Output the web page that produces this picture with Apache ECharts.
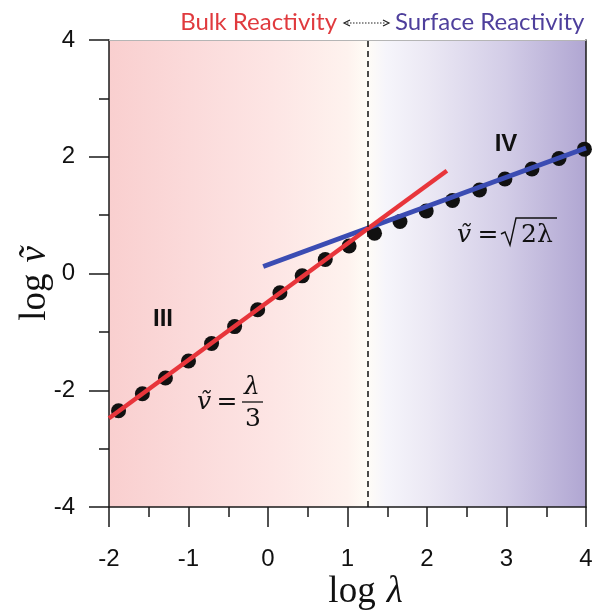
<!DOCTYPE html>
<html><head><meta charset="utf-8">
<script src="https://cdn.jsdelivr.net/npm/echarts@6/dist/echarts.min.js"></script>
<style>html,body{margin:0;padding:0;background:#fff}#c{width:592px;height:610px}</style>
</head><body><div id="c"></div>
<script>
// ---- data ----
const logLambda = [-1.88, -1.58, -1.29, -1.00, -0.71, -0.42, -0.13, 0.15, 0.43, 0.72, 1.02, 1.34, 1.66, 1.99, 2.32, 2.66, 2.98, 3.32, 3.66, 3.98];
const logV      = [-2.35, -2.06, -1.79, -1.50, -1.20, -0.91, -0.62, -0.33, -0.04, 0.24, 0.47, 0.69, 0.89, 1.07, 1.25, 1.43, 1.62, 1.79, 1.97, 2.13];
const bulkFitX = [-2, 2.25];
const bulkFitY = [-2.48, 1.76];
const surfFitX = [-0.06, 4];
const surfFitY = [0.12, 2.15];
const transitionX = 1.25;
const xRange = [-2, 4];
const yRange = [-4, 4];

const points = logLambda.map((x, i) => [x, logV[i]]);
const bulkLine = bulkFitX.map((x, i) => [x, bulkFitY[i]]);
const surfLine = surfFitX.map((x, i) => [x, surfFitY[i]]);

const chart = echarts.init(document.getElementById('c'));
const axisColor = '#1a1a1a';
const serif = "'Liberation Serif','DejaVu Serif',serif";
const mathFont = "'DejaVu Serif','Liberation Serif',serif";
const headFont = "24px Lato, 'Open Sans', sans-serif";

chart.setOption({
  animation: false,
  backgroundColor: '#fff',
  grid: {
    left: 109, right: 6, top: 40, bottom: 103,
    containLabel: false, outerBoundsMode: 'none',
    show: true, borderWidth: 0,
    backgroundColor: {
      type: 'linear', x: 0, y: 0, x2: 1, y2: 0,
      colorStops: [
        {offset: 0, color: '#f9cfcf'},
        {offset: 0.17, color: '#fbdada'},
        {offset: 0.34, color: '#fde5e4'},
        {offset: 0.5, color: '#fef2ee'},
        {offset: 0.54, color: '#fffcf6'},
        {offset: 0.58, color: '#f6f5fb'},
        {offset: 0.67, color: '#ebe8f4'},
        {offset: 0.83, color: '#d3cde7'},
        {offset: 1, color: '#b0a6d2'}
      ]
    }
  },
  xAxis: [{
    type: 'value', min: xRange[0], max: xRange[1], interval: 1,
    axisLine: {show: true, onZero: false, lineStyle: {color: axisColor, width: 1.5}},
    axisTick: {show: true, length: 20, lineStyle: {color: axisColor, width: 1.5}},
    minorTick: {show: true, splitNumber: 2, length: 10, lineStyle: {color: axisColor, width: 1.5}},
    splitLine: {show: false},
    axisLabel: {margin: 40, fontSize: 24, color: '#111', fontFamily: "'Liberation Sans',Arial,sans-serif"},
    name: '{a|log}{b|λ}', nameLocation: 'middle', nameGap: 65, nameMoveOverlap: false,
    nameTextStyle: {padding: [0, 0, 0, 36], lineHeight: 40, rich: {
      a: {fontSize: 37, lineHeight: 40, fontFamily: serif, color: '#111'},
      b: {fontSize: 37, lineHeight: 40, fontFamily: serif, fontStyle: 'italic', color: '#111', padding: [0, 0, 0, 11]}
    }}
  }, {
    type: 'value', position: 'top', min: xRange[0], max: xRange[1],
    axisLine: {show: true, onZero: false, lineStyle: {color: '#b5b5b5', width: 1}},
    axisTick: {show: false}, axisLabel: {show: false}, splitLine: {show: false}
  }],
  yAxis: [{
    type: 'value', min: yRange[0], max: yRange[1], interval: 2,
    axisLine: {show: true, onZero: false, lineStyle: {color: axisColor, width: 1.5}},
    axisTick: {show: true, length: 20, lineStyle: {color: axisColor, width: 1.5}},
    minorTick: {show: true, splitNumber: 2, length: 10, lineStyle: {color: axisColor, width: 1.5}},
    splitLine: {show: false},
    axisLabel: {margin: 34, fontSize: 24, color: '#111', fontFamily: "'Liberation Sans',Arial,sans-serif"},
    name: '{a|log}{b|ṽ}', nameLocation: 'middle', nameGap: 54, nameMoveOverlap: false,
    nameTextStyle: {padding: [0, 20, 0, 0], lineHeight: 40, rich: {
      a: {fontSize: 37, lineHeight: 40, fontFamily: serif, color: '#111'},
      b: {fontSize: 37, lineHeight: 40, fontFamily: serif, fontStyle: 'italic', color: '#111', padding: [0, 0, 0, 11]}
    }}
  }, {
    type: 'value', position: 'right', min: yRange[0], max: yRange[1],
    axisLine: {show: true, onZero: false, lineStyle: {color: axisColor, width: 1.5}},
    axisTick: {show: false}, axisLabel: {show: false}, splitLine: {show: false}
  }],
  series: [{
    type: 'scatter', data: points, symbolSize: 15,
    itemStyle: {color: '#111', opacity: 1},
    markLine: {
      silent: true, symbol: 'none', label: {show: false},
      lineStyle: {color: '#111', type: [6, 4], width: 1.5},
      data: [{xAxis: transitionX}]
    }
  }, {
    type: 'line', data: surfLine, showSymbol: false, symbol: 'none',
    lineStyle: {color: '#3b4cb3', width: 5}
  }, {
    type: 'line', data: bulkLine, showSymbol: false, symbol: 'none',
    lineStyle: {color: '#e8353b', width: 4.5}
  }],
  graphic: [
    // header
    {type: 'text', x: 337, y: 22, style: {text: 'Bulk Reactivity', fill: '#e03a3e', font: headFont, align: 'right', verticalAlign: 'middle'}},
    {type: 'line', shape: {x1: 347, y1: 23, x2: 386, y2: 23}, style: {stroke: '#222', lineWidth: 1.2, lineDash: [1.5, 1.5]}},
    {type: 'polyline', shape: {points: [[350, 20], [344, 23], [350, 26]]}, style: {stroke: '#222', lineWidth: 1.2, fill: null}},
    {type: 'polyline', shape: {points: [[383, 20], [389, 23], [383, 26]]}, style: {stroke: '#222', lineWidth: 1.2, fill: null}},
    {type: 'text', x: 395, y: 22, style: {text: 'Surface Reactivity', fill: '#4e3f9c', font: headFont, align: 'left', verticalAlign: 'middle'}},
    // regime labels
    {type: 'text', x: 163, y: 319, style: {text: 'III', fill: '#111', font: "bold 24px 'Liberation Sans', Arial, sans-serif", align: 'center', verticalAlign: 'middle'}},
    {type: 'text', x: 506, y: 144, style: {text: 'IV', fill: '#111', font: "bold 24px 'Liberation Sans', Arial, sans-serif", align: 'center', verticalAlign: 'middle'}},
    // formula v = lambda/3
    {type: 'text', x: 204, y: 402, style: {text: 'ṽ', fill: '#111', font: "italic 25px " + mathFont, align: 'center', verticalAlign: 'middle'}},
    {type: 'text', x: 227, y: 402, style: {text: '=', fill: '#111', font: "25px " + mathFont, align: 'center', verticalAlign: 'middle'}},
    {type: 'text', x: 252, y: 387, style: {text: 'λ', fill: '#111', font: "italic 25px " + mathFont, align: 'center', verticalAlign: 'middle'}},
    {type: 'line', shape: {x1: 242, y1: 402, x2: 263, y2: 402}, style: {stroke: '#111', lineWidth: 1.3}},
    {type: 'text', x: 253, y: 419, style: {text: '3', fill: '#111', font: "25px " + mathFont, align: 'center', verticalAlign: 'middle'}},
    // formula v = sqrt(2 lambda)
    {type: 'text', x: 464, y: 235, style: {text: 'ṽ', fill: '#111', font: "italic 25px " + mathFont, align: 'center', verticalAlign: 'middle'}},
    {type: 'text', x: 488, y: 235, style: {text: '=', fill: '#111', font: "25px " + mathFont, align: 'center', verticalAlign: 'middle'}},
    {type: 'polyline', shape: {points: [[501, 234], [505, 232], [510, 245], [516, 218], [557, 218]]}, style: {stroke: '#111', lineWidth: 1.4, fill: null}},
    {type: 'text', x: 537, y: 235, style: {text: '2λ', fill: '#111', font: "25px " + mathFont, align: 'center', verticalAlign: 'middle'}}
  ]
});
</script></body></html>
